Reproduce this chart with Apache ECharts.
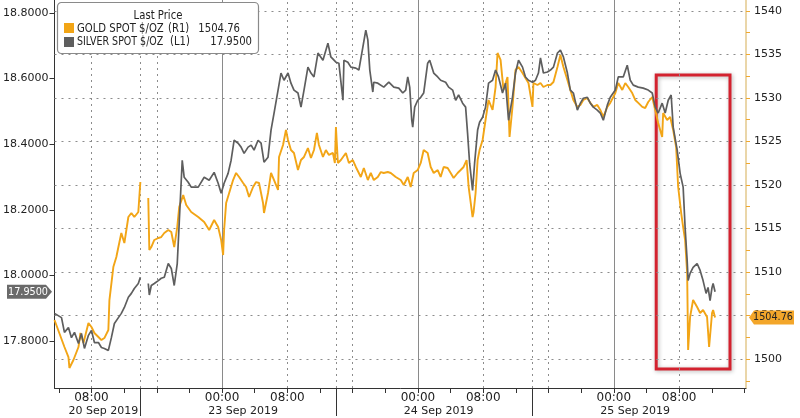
<!DOCTYPE html>
<html><head><meta charset="utf-8">
<script src="https://cdn.jsdelivr.net/npm/echarts@6/dist/echarts.min.js"></script>
<style>html,body{margin:0;padding:0;background:#fff}#c{width:800px;height:418px}</style>
</head><body><div id="c"></div><script>
const FONT = '"DejaVu Sans",sans-serif';

// session hours since 20 Sep 00:00 (weekend removed): [hour, price]
const goldSeries = [[3.47,1504.48],[4.69,1501.38],[5.18,1500.23],[5.30,1498.97],[5.79,1499.89],[6.41,1501.38],[6.65,1502.99],[7.02,1501.84],[7.63,1504.14],[8.00,1503.68],[8.36,1502.99],[8.85,1502.53],[9.22,1502.18],[9.58,1502.41],[10.07,1503.33],[10.20,1506.78],[10.68,1510.57],[11.05,1511.72],[11.30,1512.87],[11.66,1514.48],[12.03,1513.33],[12.52,1516.32],[12.89,1516.78],[13.25,1516.32],[13.74,1516.90],[13.99,1520.34],[14.5,null],[14.96,1518.51],[15.09,1512.53],[15.33,1512.87],[15.70,1513.68],[16.19,1513.91],[16.55,1514.02],[16.92,1514.48],[17.41,1514.83],[17.78,1514.60],[18.14,1512.87],[18.51,1515.17],[18.75,1517.47],[19.24,1518.85],[19.61,1517.70],[20.22,1516.90],[21.08,1516.32],[21.81,1515.75],[22.42,1514.83],[23.03,1515.98],[23.52,1515.17],[23.89,1513.68],[24.13,1511.95],[24.25,1514.83],[24.50,1517.93],[24.87,1519.08],[25.35,1520.57],[25.72,1521.38],[26.09,1520.92],[26.58,1520.23],[26.94,1519.77],[27.31,1518.62],[27.80,1519.77],[28.17,1520.34],[28.53,1520.23],[29.02,1517.93],[29.14,1516.78],[29.63,1519.08],[30.00,1521.38],[30.37,1520.57],[30.86,1519.43],[30.98,1523.22],[31.47,1524.60],[31.83,1526.32],[32.08,1525.17],[32.44,1524.02],[32.81,1523.68],[33.30,1521.72],[33.67,1522.87],[34.04,1523.22],[34.52,1524.25],[34.89,1523.10],[35.26,1524.02],[35.62,1525.98],[35.87,1524.60],[36.36,1523.22],[36.72,1524.02],[37.09,1523.45],[37.58,1523.68],[37.82,1522.53],[37.95,1526.67],[38.19,1522.53],[38.56,1522.87],[39.17,1523.68],[39.54,1522.53],[40.02,1522.87],[40.39,1522.07],[41.00,1520.92],[41.37,1521.95],[41.86,1520.57],[42.22,1521.38],[42.59,1520.57],[43.08,1520.92],[43.45,1521.49],[43.81,1521.38],[44.30,1521.49],[44.67,1521.38],[45.28,1520.92],[45.89,1520.57],[46.26,1520.00],[46.75,1520.92],[47.11,1519.77],[47.48,1521.38],[47.97,1521.72],[48.34,1522.53],[48.70,1524.02],[49.19,1523.68],[49.56,1522.07],[49.93,1521.38],[50.42,1521.72],[50.78,1520.92],[51.15,1522.07],[51.64,1521.95],[52.01,1521.38],[52.37,1520.80],[52.86,1521.38],[53.23,1521.72],[53.59,1522.07],[53.96,1522.87],[54.21,1519.77],[54.45,1518.05],[54.69,1516.32],[54.82,1516.90],[55.06,1519.08],[55.31,1522.87],[55.55,1524.02],[55.92,1525.17],[56.28,1527.47],[56.65,1529.77],[57.14,1528.62],[57.51,1531.26],[57.75,1535.17],[58.12,1534.37],[58.48,1530.92],[58.97,1532.41],[59.22,1525.52],[59.58,1528.97],[59.95,1533.22],[60.32,1533.56],[60.81,1532.87],[61.17,1532.30],[61.54,1531.72],[62.03,1528.97],[62.15,1531.72],[62.64,1531.49],[63.01,1531.72],[63.37,1531.26],[63.86,1531.49],[64.23,1531.49],[64.60,1531.84],[65.09,1533.56],[65.45,1534.94],[65.82,1533.56],[66.31,1532.07],[66.67,1530.92],[67.04,1529.77],[67.53,1528.97],[67.90,1529.20],[68.26,1529.77],[68.75,1530.00],[69.12,1529.43],[69.49,1528.97],[69.97,1529.20],[70.34,1528.62],[70.71,1527.82],[71.20,1528.97],[71.56,1529.43],[72.18,1530.57],[72.54,1531.72],[73.03,1530.92],[73.40,1531.72],[73.76,1531.26],[74.25,1530.57],[74.62,1529.77],[74.99,1529.43],[75.48,1528.97],[75.84,1528.85],[76.21,1529.54],[76.70,1530.11],[77.07,1528.62],[77.43,1527.13],[77.92,1525.52],[78.04,1528.28],[78.53,1527.47],[78.90,1527.82],[79.27,1526.32],[79.63,1524.37],[79.88,1519.77],[80.25,1516.78],[80.49,1515.17],[80.73,1513.68],[80.98,1509.89],[81.10,1501.03],[81.34,1504.83],[81.71,1506.78],[82.20,1505.98],[82.57,1505.29],[82.93,1505.63],[83.42,1504.83],[83.67,1501.38],[84.03,1505.29],[84.16,1505.63],[84.40,1504.76]];

const silverSeries = [[3.47,17.884],[4.33,17.871],[4.69,17.826],[5.18,17.841],[5.55,17.810],[5.92,17.826],[6.41,17.792],[6.77,17.823],[7.14,17.777],[7.63,17.817],[8.00,17.832],[8.36,17.795],[8.85,17.795],[9.22,17.780],[9.58,17.777],[10.07,17.771],[10.44,17.810],[10.81,17.853],[11.30,17.871],[11.66,17.884],[12.03,17.902],[12.52,17.933],[12.89,17.945],[13.25,17.960],[13.74,17.975],[13.99,17.994],[14.5,null],[14.96,17.975],[15.09,17.940],[15.33,17.969],[15.70,17.975],[16.19,17.984],[16.55,17.991],[16.92,17.994],[17.41,18.036],[17.78,18.021],[18.14,17.969],[18.51,18.036],[18.75,18.159],[19.12,18.351],[19.36,18.299],[19.85,18.284],[20.22,18.269],[20.59,18.269],[21.08,18.269],[21.81,18.299],[22.42,18.290],[23.03,18.314],[23.52,18.281],[23.89,18.250],[24.25,18.281],[24.74,18.311],[25.11,18.351],[25.48,18.412],[25.97,18.403],[26.33,18.391],[26.70,18.372],[27.19,18.391],[27.56,18.397],[27.92,18.382],[28.41,18.412],[28.78,18.403],[29.14,18.345],[29.63,18.360],[30.00,18.443],[30.37,18.495],[30.86,18.565],[31.22,18.617],[31.59,18.595],[32.08,18.617],[32.44,18.586],[32.81,18.565],[33.30,18.556],[33.67,18.513],[34.04,18.565],[34.52,18.635],[34.89,18.617],[35.26,18.605],[35.75,18.678],[36.36,18.656],[36.97,18.708],[37.33,18.666],[37.95,18.650],[38.31,18.647],[38.81,18.534],[38.93,18.656],[39.41,18.650],[39.78,18.635],[40.39,18.632],[40.76,18.626],[41.25,18.696],[41.61,18.748],[41.86,18.718],[42.10,18.626],[42.47,18.559],[42.59,18.589],[43.08,18.586],[43.81,18.574],[44.43,18.589],[45.04,18.574],[45.65,18.571],[46.14,18.556],[46.50,18.565],[46.75,18.605],[46.99,18.574],[47.24,18.473],[47.36,18.452],[47.60,18.513],[47.97,18.534],[48.34,18.543],[48.70,18.556],[49.19,18.647],[49.44,18.656],[49.93,18.617],[50.42,18.605],[50.78,18.595],[51.39,18.589],[51.76,18.574],[52.25,18.565],[52.62,18.534],[52.98,18.550],[53.47,18.525],[53.84,18.513],[54.08,18.433],[54.33,18.342],[54.69,18.259],[54.94,18.342],[55.31,18.443],[55.55,18.467],[55.92,18.482],[56.28,18.513],[56.65,18.586],[57.14,18.595],[57.51,18.626],[57.87,18.605],[58.36,18.556],[58.73,18.586],[59.10,18.473],[59.58,18.543],[59.95,18.617],[60.32,18.656],[60.81,18.635],[61.17,18.605],[61.54,18.595],[62.03,18.589],[62.40,18.595],[62.76,18.617],[63.01,18.663],[63.37,18.617],[63.86,18.620],[64.23,18.626],[64.60,18.635],[65.09,18.678],[65.45,18.687],[65.82,18.666],[66.31,18.617],[66.67,18.565],[67.04,18.556],[67.53,18.504],[67.90,18.525],[68.26,18.540],[68.75,18.543],[69.12,18.525],[69.49,18.513],[69.97,18.504],[70.34,18.495],[70.71,18.473],[71.20,18.519],[71.56,18.543],[72.18,18.565],[72.54,18.605],[73.15,18.605],[73.64,18.641],[74.01,18.595],[74.38,18.580],[74.99,18.574],[75.60,18.571],[76.21,18.565],[76.70,18.556],[77.07,18.513],[77.43,18.495],[77.92,18.525],[78.29,18.495],[78.66,18.534],[79.02,18.550],[79.27,18.452],[79.76,18.382],[80.12,18.311],[80.49,18.269],[80.73,18.146],[80.98,18.046],[81.10,17.984],[81.34,18.006],[81.71,18.024],[82.20,18.036],[82.57,18.015],[82.93,17.984],[83.30,17.945],[83.54,17.963],[83.79,17.923],[84.03,17.963],[84.16,17.975],[84.40,17.950]];

const silverTicks = [17.8, 18.0, 18.2, 18.4, 18.6, 18.8];
const goldTicks = [1500, 1505, 1510, 1515, 1520, 1525, 1530, 1535, 1540];
const goldMinorTicks = [1497.5,1500,1502.5,1505,1507.5,1510,1512.5,1515,1517.5,1520,1522.5,1525,1527.5,1530,1532.5,1535,1537.5,1540];
const timeTicks = [4,8,12,16,20,24,28,32,36,40,44,48,52,56,60,64,68,72,76,80,84,88];
const timeLabels = [8, 24, 32, 48, 56, 72, 80];
const sessionBreaks = [14, 38, 62];
const dottedTimes = [8, 14, 16, 32, 38, 40, 56, 62, 64, 80];
const dayStarts = [24, 48, 72];
const dateLabelPos = [5.18, 22.3, 46.26, 70.34];
const dateLabels = ['20 Sep 2019', '23 Sep 2019', '24 Sep 2019', '25 Sep 2019'];
const lastGold = 1504.76;
const lastSilver = 17.95;
const highlightBox = { t0: 77.19, t1: 86.23, p0: 1498.85, p1: 1532.64 };

const GOLD = '#f2a516';
const SILVER = '#5e5e5e';

const chart = echarts.init(document.getElementById('c'), null, { renderer: 'canvas' });

const hourFmt = v => {
  const h = Math.round(v) % 24;
  return (h < 10 ? '0' : '') + h + ':00';
};
const dateFmt = v => {
  let best = 0;
  dateLabelPos.forEach((p, i) => { if (Math.abs(p - v) < Math.abs(dateLabelPos[best] - v)) best = i; });
  return dateLabels[best];
};

const markLines = [];
goldTicks.forEach(v => markLines.push({ yAxis: v, lineStyle: { type: [2, 5], color: '#8c8c8c', width: 1 } }));
dottedTimes.forEach(t => markLines.push({ xAxis: t, lineStyle: { type: [2, 4], color: '#8c8c8c', width: 1 } }));
dayStarts.forEach(t => markLines.push({ xAxis: t, lineStyle: { type: 'solid', color: '#8a8a8a', width: 1 } }));

chart.setOption({
  animation: false,
  textStyle: { fontFamily: FONT },
  grid: { left: 53, right: 54, top: 0, bottom: 30, containLabel: false },
  xAxis: [
    {
      type: 'value', min: 3.47, max: 88.19,
      axisLine: { show: true, lineStyle: { color: '#333', width: 1 } },
      axisTick: { show: true, customValues: timeTicks, length: 5, lineStyle: { color: '#333' } },
      axisLabel: { customValues: timeLabels, formatter: hourFmt, fontSize: 12, color: '#222', margin: 4, fontFamily: FONT },
      splitLine: { show: false }
    },
    {
      type: 'value', min: 3.47, max: 88.19, position: 'bottom',
      axisLine: { show: false },
      axisTick: { show: true, customValues: sessionBreaks, length: 28, lineStyle: { color: '#333' } },
      axisLabel: { customValues: dateLabelPos, formatter: dateFmt, fontSize: 11, color: '#222', margin: 18, align: 'left', fontFamily: FONT },
      splitLine: { show: false }
    }
  ],
  yAxis: [
    {
      type: 'value', position: 'left', min: 17.6564, max: 18.8397,
      axisLine: { show: true, lineStyle: { color: '#333', width: 1 } },
      axisTick: { show: true, customValues: silverTicks, length: 5, lineStyle: { color: '#333' } },
      axisLabel: { customValues: silverTicks, formatter: v => v.toFixed(4), fontSize: 11, color: '#222', margin: 6, fontFamily: FONT },
      splitLine: { show: false }
    },
    {
      type: 'value', position: 'right', min: 1496.67, max: 1541.26,
      axisLine: { show: true, lineStyle: { color: '#e3c88c', width: 1.5 } },
      axisTick: { show: true, customValues: goldMinorTicks, length: 4, lineStyle: { color: '#f0a830' } },
      axisLabel: { customValues: goldTicks, formatter: v => String(v), fontSize: 11, color: '#222', margin: 8, fontFamily: FONT },
      splitLine: { show: false }
    }
  ],
  series: [
    {
      name: 'GOLD', type: 'line', xAxisIndex: 0, yAxisIndex: 1,
      data: goldSeries.map(d => [d[0], d[1] === null ? '-' : d[1]]),
      showSymbol: false, connectNulls: false,
      lineStyle: { color: GOLD, width: 1.9 }, itemStyle: { color: GOLD },
      z: 3,
      markLine: { silent: true, symbol: ['none', 'none'], label: { show: false }, data: markLines, z: 1 },
      markArea: {
        silent: true,
        itemStyle: { color: 'rgba(0,0,0,0)', borderColor: '#d3222f', borderWidth: 3, shadowBlur: 4, shadowColor: 'rgba(0,0,0,0.3)', shadowOffsetX: 1, shadowOffsetY: 1 },
        data: [[{ xAxis: highlightBox.t0, yAxis: highlightBox.p1 }, { xAxis: highlightBox.t1, yAxis: highlightBox.p0 }]]
      }
    },
    {
      name: 'SILVER', type: 'line', xAxisIndex: 0, yAxisIndex: 0,
      data: silverSeries.map(d => [d[0], d[1] === null ? '-' : d[1]]),
      showSymbol: false, connectNulls: false,
      lineStyle: { color: SILVER, width: 1.7 }, itemStyle: { color: SILVER },
      z: 4
    }
  ]
});

const ySil = chart.convertToPixel({ yAxisIndex: 0 }, lastSilver);
const yGld = chart.convertToPixel({ yAxisIndex: 1 }, lastGold);
const txt = (x, y, text, align, size, color, sx) => ({
  type: 'text', x: x, y: y, z: 101, scaleX: sx || 1,
  style: { text: text, fill: color || '#222', font: size + 'px ' + FONT, align: align, textAlign: align, verticalAlign: 'middle', textVerticalAlign: 'middle' }
});
const LS = 0.84;

chart.setOption({
  graphic: [
    { type: 'rect', z: 100, shape: { x: 57.5, y: 2.5, width: 201, height: 51, r: 4 }, style: { fill: '#fff', stroke: '#8a8a8a', lineWidth: 1.2 } },
    txt(158, 16, 'Last Price', 'center', 12, '#222', LS),
    { type: 'rect', z: 101, shape: { x: 64, y: 23, width: 10, height: 10 }, style: { fill: GOLD } },
    { type: 'rect', z: 101, shape: { x: 64, y: 37, width: 10, height: 10 }, style: { fill: SILVER } },
    txt(77, 28.5, 'GOLD SPOT $/OZ', 'left', 12, '#222', LS),
    txt(168, 28.5, '(R1)', 'left', 12, '#222', LS),
    txt(240, 28.5, '1504.76', 'right', 12, '#222', LS),
    txt(77, 42, 'SILVER SPOT $/OZ', 'left', 12, '#222', LS * 0.94),
    txt(170, 42, '(L1)', 'left', 12, '#222', LS),
    txt(252, 42, '17.9500', 'right', 12, '#222', LS),
    { type: 'polygon', z: 100, shape: { points: [[7, ySil - 7], [46, ySil - 7], [52, ySil], [46, ySil + 7], [7, ySil + 7]] }, style: { fill: '#6a6a6a' } },
    txt(28, ySil, '17.9500', 'center', 11, '#fff', 0.88),
    { type: 'polygon', z: 100, shape: { points: [[749, yGld], [754, yGld - 7], [794, yGld - 7], [794, yGld + 7], [754, yGld + 7]] }, style: { fill: '#f3a62a' } },
    txt(773, yGld, '1504.76', 'center', 11, '#222', 0.88)
  ]
});
</script></body></html>
